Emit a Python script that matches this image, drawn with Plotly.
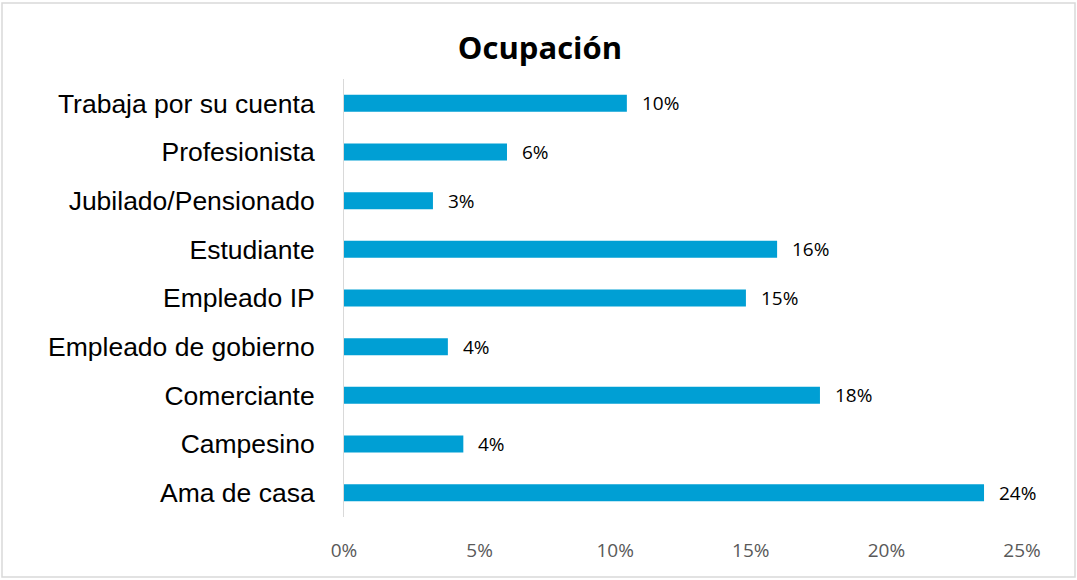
import plotly.graph_objects as go

categories = ["Ama de casa", "Campesino", "Comerciante", "Empleado de gobierno",
              "Empleado IP", "Estudiante", "Jubilado/Pensionado", "Profesionista",
              "Trabaja por su cuenta"]
values = [0.236, 0.044, 0.1755, 0.0383, 0.1482, 0.1597, 0.0328, 0.0601, 0.1043]
tick_vals = [0, 0.05, 0.10, 0.15, 0.20, 0.25]
tick_text = ["0%", "5%", "10%", "15%", "20%", "25%"]

W, H = 1077, 580
ml, mr, mt, mb = 344, 55, 79, 63
pw, ph = W - ml - mr, H - mt - mb

fig = go.Figure()
fig.add_trace(go.Bar(
    x=values, y=categories, orientation="h",
    marker=dict(color="#009fd4", line=dict(width=0)),
    width=0.35, hoverinfo="skip",
))
for c, v in zip(categories, values):
    fig.add_annotation(x=v, y=c, text=f"{v:.0%}", showarrow=False,
                       xanchor="left", xshift=13,
                       font=dict(family="Open Sans, sans-serif", size=19, color="#000000"))

fig.update_layout(
    width=W, height=H,
    margin=dict(l=ml, r=mr, t=mt, b=mb),
    paper_bgcolor="white", plot_bgcolor="white",
    showlegend=False,
    title=dict(text="<b>Ocupación</b>", x=(540 / W), xanchor="center",
               y=1 - 48 / H, yanchor="middle",
               font=dict(family="Open Sans, sans-serif", size=31, color="#000000")),
    xaxis=dict(range=[0, 0.25], tickvals=tick_vals, ticktext=tick_text,
               showgrid=False, zeroline=False, showline=False,
               ticks="outside", ticklen=16, tickcolor="rgba(0,0,0,0)",
               tickfont=dict(family="Open Sans, sans-serif", size=19, color="#595959")),
    yaxis=dict(showgrid=False, zeroline=False, showline=True, linecolor="#d9d9d9",
               linewidth=1, ticks="outside", ticklen=23, tickcolor="rgba(0,0,0,0)",
               tickfont=dict(family="Liberation Sans, Arial, sans-serif", size=26.5, color="#000000"),
               range=[-0.5, 8.5]),
    shapes=[dict(type="rect", xref="paper", yref="paper",
                 x0=(2 - ml) / pw, x1=(W - 2 - ml) / pw,
                 y0=(H - mb - (H - 3)) / ph, y1=(H - mb - 3) / ph,
                 line=dict(color="#d9d9d9", width=1.5), fillcolor="rgba(0,0,0,0)",
                 layer="below")],
)
fig.write_html("out.html", config={"displayModeBar": False},
               post_script="document.body.style.margin='0px';")
